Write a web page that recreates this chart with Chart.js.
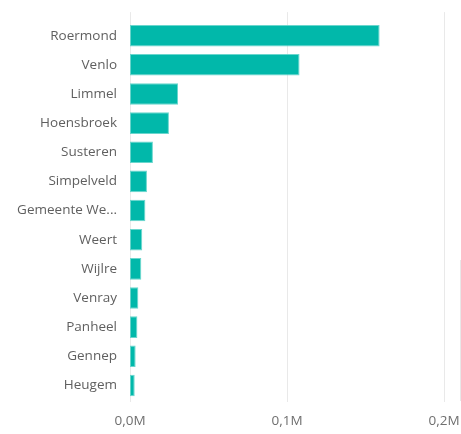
<!DOCTYPE html>
<html>
<head>
<meta charset="utf-8">
<script src="https://cdn.jsdelivr.net/npm/chart.js@4"></script>
<style>
  html, body { margin: 0; padding: 0; background: #fff; }
  #wrap { position: relative; width: 461px; height: 434px; }
  #edge { position: absolute; left: 460px; top: 260px; width: 1px; height: 141px; background: #e8e8e8; }
</style>
</head>
<body>
<div id="wrap">
  <canvas id="myChart" width="461" height="434"></canvas>
  <div id="edge"></div>
</div>
<script>
const places = ['Roermond', 'Venlo', 'Limmel', 'Hoensbroek', 'Susteren', 'Simpelveld',
  'Gemeente We...', 'Weert', 'Wijlre', 'Venray', 'Panheel', 'Gennep', 'Heugem'];
const amounts = [159000, 108000, 30600, 24800, 14600, 10800, 9800, 7800, 7200, 5300, 4700, 3600, 3000];
const xTicks = [0, 100000, 200000];

// grid lines run a little past the bar band, like the original report
const gridLines = {
  id: 'gridLines',
  beforeDatasetsDraw(chart) {
    const { ctx, chartArea, scales } = chart;
    ctx.save();
    ctx.strokeStyle = '#e9e9e9';
    ctx.lineWidth = 1;
    xTicks.forEach((v) => {
      const x = Math.round(scales.x.getPixelForValue(v)) + 0.5;
      ctx.beginPath();
      ctx.moveTo(x, chartArea.top - 9);
      ctx.lineTo(x, chartArea.bottom + 2);
      ctx.stroke();
    });
    ctx.restore();
  }
};

new Chart(document.getElementById('myChart'), {
  type: 'bar',
  data: {
    labels: places,
    datasets: [{
      data: amounts,
      backgroundColor: '#01b8aa',
      borderColor: 'rgba(90, 210, 200, 0.9)',
      borderWidth: 1,
      borderSkipped: false,
      barPercentage: 0.74,
      categoryPercentage: 1
    }]
  },
  options: {
    indexAxis: 'y',
    responsive: false,
    animation: false,
    layout: { padding: { top: 20, right: 0, bottom: 0, left: 0 } },
    plugins: { legend: { display: false }, tooltip: { enabled: false } },
    scales: {
      x: {
        min: 0,
        max: 200000,
        afterBuildTicks: (s) => { s.ticks = xTicks.map((v) => ({ value: v })); },
        grid: { display: false },
        border: { display: false },
        ticks: {
          color: '#6f6f6f',
          padding: 5,
          font: { family: 'Open Sans', size: 13.5 },
          callback: (v) => (v / 1e6).toFixed(1).replace('.', ',') + 'M'
        },
        afterFit: (s) => { s.height = 34; s.paddingRight = 17; }
      },
      y: {
        grid: { display: false, drawTicks: false },
        border: { display: false },
        ticks: {
          color: '#5f5f5f',
          padding: 13,
          font: { family: 'Open Sans', size: 13.5 }
        },
        afterFit: (s) => { s.width = 130; }
      }
    }
  },
  plugins: [gridLines]
});
</script>
</body>
</html>
